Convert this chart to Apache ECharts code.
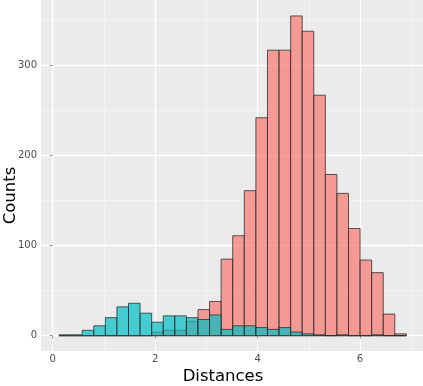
<!DOCTYPE html>
<html>
<head>
<meta charset="utf-8">
<script src="https://cdn.jsdelivr.net/npm/echarts@6/dist/echarts.min.js"></script>
<style>html,body{margin:0;padding:0;background:#fff}#c{width:423px;height:386px}</style>
</head>
<body>
<div id="c"></div>
<script>
// Histogram bins (30 bins)
const binStart = 0.123;
const binWidth = 0.2261;
const redCounts = [0,0,0,0,0,0,0,0,4,6,6,16,29,38,85,111,161,242,317,317,355,338,267,179,158,119,84,70,24,2];
const tealCounts = [1,1,6,11,20,32,36,25,15,22,22,20,18,23,7,11,11,9,7,9,4,2,1,0,1,0,0,1,0,0];
const xMajorTicks = [0,2,4,6];
const xMinorTicks = [1,3,5,7];
const yMajorTicks = [0,100,200,300];
const yMinorTicks = [50,150,250,350];

const XMIN = -0.229, XMAX = 7.23, YMIN = -17, YMAX = 372.7;

function toData(counts){
  return counts.map((c,i)=>[binStart+i*binWidth, binStart+(i+1)*binWidth, c]);
}
function makeRender(fill){
  return function(params, api){
    const p0 = api.coord([api.value(0), api.value(2)]);
    const p1 = api.coord([api.value(1), 0]);
    return {type:'rect', shape:{x:p0[0], y:p0[1], width:p1[0]-p0[0], height:p1[1]-p0[1]},
      style:{fill:fill, stroke:'rgba(40,40,40,0.75)', lineWidth:1}};
  };
}
const chart = echarts.init(document.getElementById('c'), null, {renderer:'canvas'});
const labelStyle = {color:'#4D4D4D', fontSize:10, fontFamily:'DejaVu Sans'};
chart.setOption({
  animation:false,
  backgroundColor:'#ffffff',
  grid:{left:41, right:0, top:0, bottom:35, show:true, backgroundColor:'#EBEBEB', borderWidth:0,
        containLabel:false, outerBoundsMode:'none'},
  xAxis:[{
    type:'value', min:XMIN, max:XMAX,
    name:'Distances', nameLocation:'middle', nameGap:17, nameMoveOverlap:false,
    nameTextStyle:{color:'#000', fontSize:16.5, fontFamily:'DejaVu Sans', padding:[0,18,0,0]},
    axisLine:{show:false},
    axisTick:{show:true, length:3, lineStyle:{color:'#999'}, customValues:xMajorTicks},
    axisLabel:{...labelStyle, margin:3, customValues:xMajorTicks},
    splitLine:{show:true, lineStyle:{color:'#ffffff', width:1.3}}
  },{
    type:'value', min:XMIN, max:XMAX, position:'bottom',
    axisLine:{show:false}, axisTick:{show:false, customValues:xMinorTicks},
    axisLabel:{show:false, customValues:xMinorTicks},
    splitLine:{show:true, lineStyle:{color:'#F7F7F7', width:0.7}}
  }],
  yAxis:[{
    type:'value', min:YMIN, max:YMAX,
    name:'Counts', nameLocation:'middle', nameGap:22, nameMoveOverlap:false,
    nameTextStyle:{color:'#000', fontSize:16.5, fontFamily:'DejaVu Sans', padding:[0,40,0,0]},
    axisLine:{show:false},
    axisTick:{show:true, length:3, lineStyle:{color:'#999'}, customValues:yMajorTicks},
    axisLabel:{...labelStyle, margin:4, customValues:yMajorTicks},
    splitLine:{show:true, lineStyle:{color:'#ffffff', width:1.3}}
  },{
    type:'value', min:YMIN, max:YMAX,
    axisLine:{show:false}, axisTick:{show:false, customValues:yMinorTicks},
    axisLabel:{show:false, customValues:yMinorTicks},
    splitLine:{show:true, lineStyle:{color:'#F7F7F7', width:0.7}}
  }],
  series:[
    {type:'custom', xAxisIndex:0, yAxisIndex:0, renderItem:makeRender('rgba(248,118,109,0.7)'),
     encode:{x:[0,1], y:2}, data:toData(redCounts)},
    {type:'custom', xAxisIndex:0, yAxisIndex:0, renderItem:makeRender('rgba(0,191,196,0.7)'),
     encode:{x:[0,1], y:2}, data:toData(tealCounts)}
  ]
});
</script>
</body>
</html>
